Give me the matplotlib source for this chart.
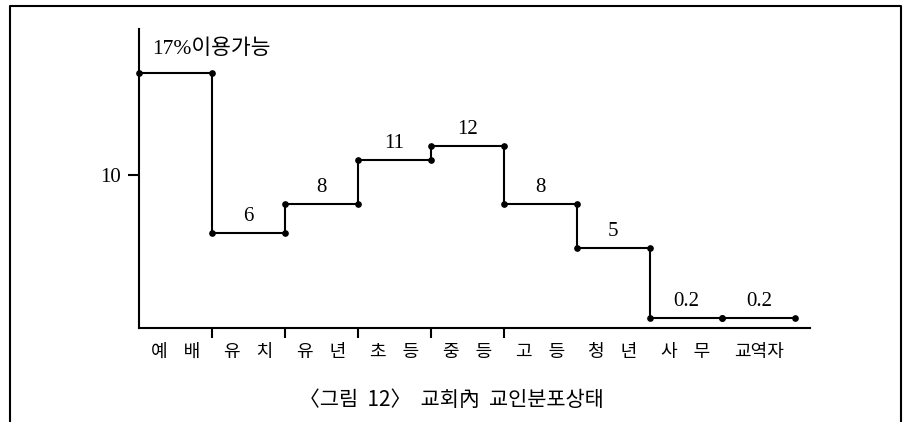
import matplotlib.pyplot as plt
from matplotlib.lines import Line2D

# categories (two syllables each, spaced like the print)
categories = ["예    배", "유    치", "유    년", "초    등", "중    등",
              "고    등", "청    년", "사    무", "교역자"]
values = [17, 6, 8, 11, 12, 8, 5, 0.2, 0.2]
value_labels = ["17%이용가능", "6", "8", "11", "12", "8", "5", "0.2", "0.2"]
caption = "〈그림  12〉  교회內  교인분포상태"

serif = ["Liberation Serif", "Noto Sans CJK KR"]
sans = ["Noto Sans CJK KR", "DejaVu Sans"]

fig = plt.figure(figsize=(9.08, 4.22), dpi=100)
ax = fig.add_axes([139/908, 94/422, 671/908, 299/422])

# step line: each group is a flat segment, neighbours joined vertically
xs = []
ys = []
for i, v in enumerate(values):
    xs += [i, i + 1]
    ys += [v, v]
ax.plot(xs, ys, color="black", linewidth=1.5, marker="o", markersize=3.8,
        markerfacecolor="black", markeredgecolor="black", clip_on=False, zorder=3)

# number above each segment
for i, (v, lab) in enumerate(zip(values, value_labels)):
    if i == 0:
        ax.annotate(lab, (i + 0.18, v), xytext=(0, 17), textcoords="offset points",
                    ha="left", va="center", fontsize=15.5, family=serif)
    else:
        ax.annotate(lab, (i + 0.5, v), xytext=(0, 12), textcoords="offset points",
                    ha="center", va="center", fontsize=15, family=serif)

ax.set_xlim(0, 9.2)
ax.set_ylim(-0.5, 20)

for s in ["top", "right"]:
    ax.spines[s].set_visible(False)
for s in ["left", "bottom"]:
    ax.spines[s].set_linewidth(1.5)

# ticks: y only at 10, x at the inner group boundaries
ax.set_yticks([10])
ax.set_yticklabels(["10"], family=serif, fontsize=15)
ax.tick_params(axis="y", direction="out", length=8, width=1.5, pad=5)

ax.set_xticks([1, 2, 3, 4, 5])
ax.set_xticklabels([])
ax.tick_params(axis="x", which="major", direction="out", length=7, width=1.5)
ax.set_xticks([i + 0.5 for i in range(len(categories))], minor=True)
ax.set_xticklabels(categories, minor=True, family=sans, fontsize=13)
ax.tick_params(axis="x", which="minor", length=0, pad=11)

# caption under the chart
fig.text(451/908, 22/422, caption, ha="center", va="center", fontsize=15, family=sans)

# page frame (open at the bottom)
fx = [9.5/908, 9.5/908, 900.5/908, 900.5/908]
fy = [0, 416/422, 416/422, 0]
fig.add_artist(Line2D(fx, fy, transform=fig.transFigure, color="black", linewidth=1.5))

plt.savefig("out.png", dpi=100)
